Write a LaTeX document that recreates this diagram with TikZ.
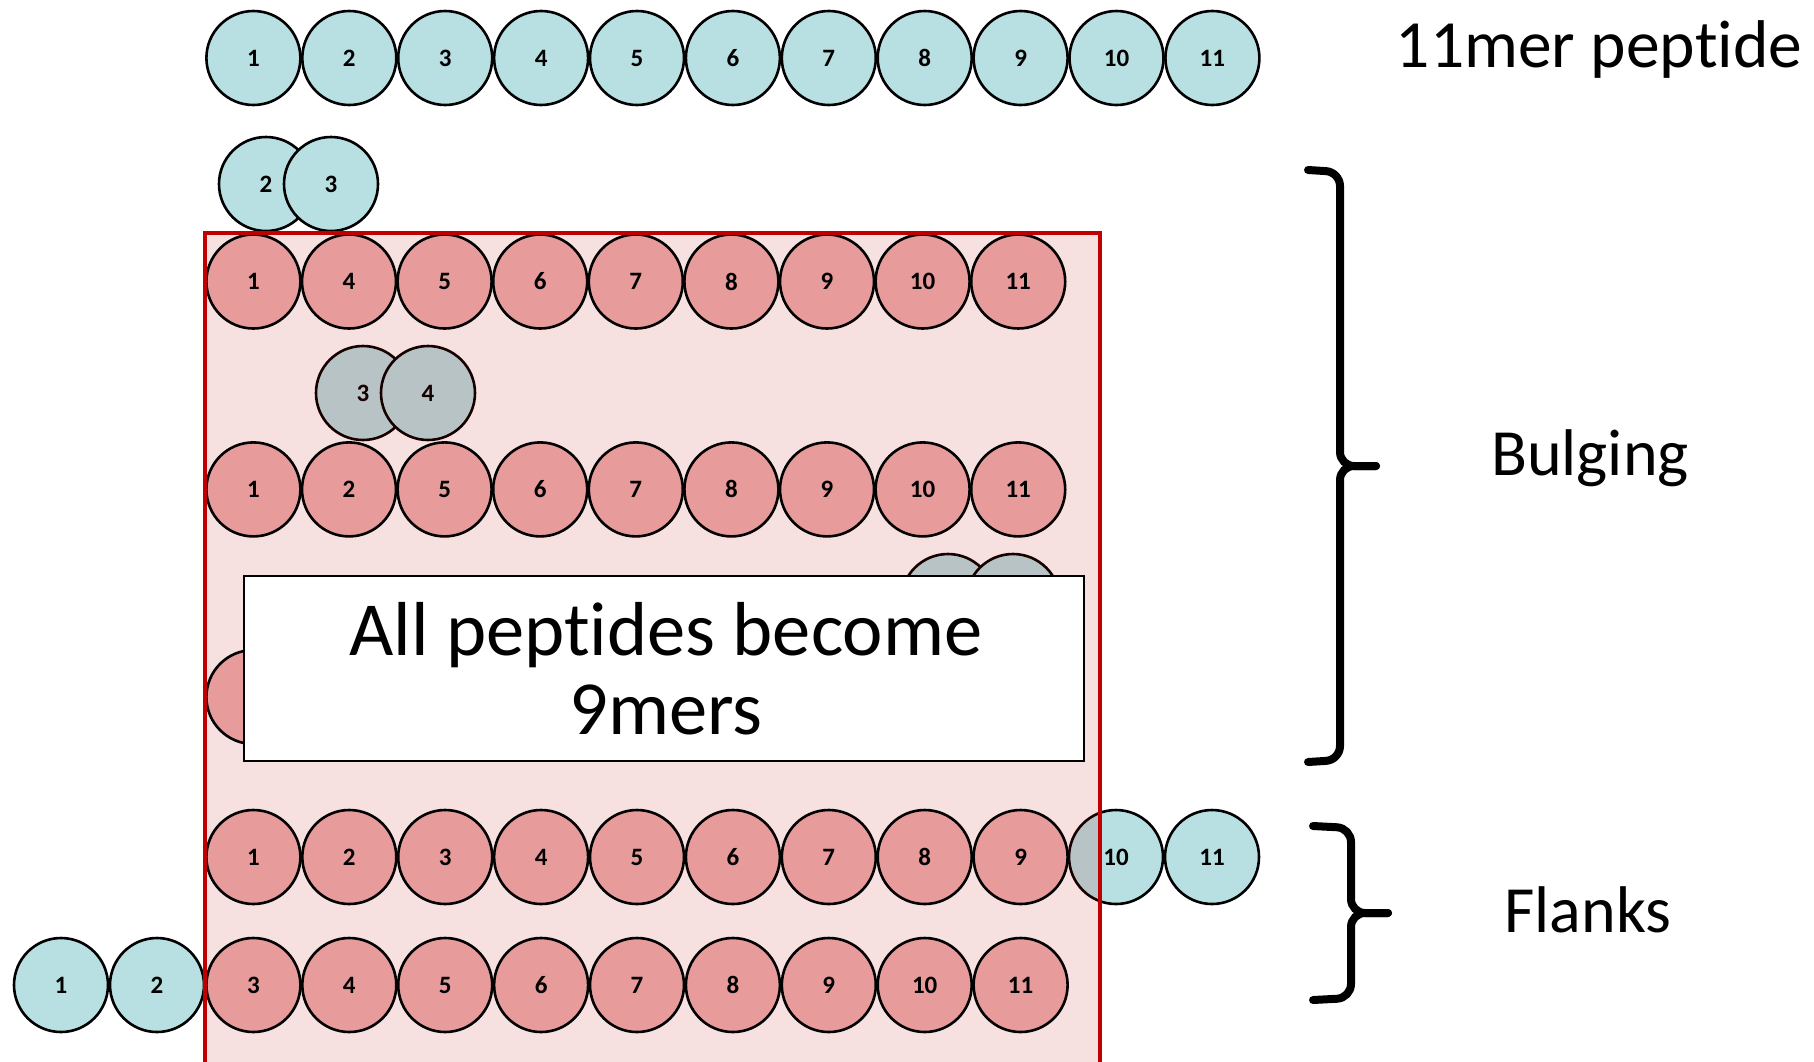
\documentclass[tikz,border=0pt]{standalone}
\usepackage{fontspec}
\setmainfont[Ligatures=NoCommon]{Carlito}
\definecolor{pepblue}{RGB}{184,223,226}
\definecolor{pepred}{RGB}{231,155,155}
\definecolor{framered}{RGB}{192,0,0}
\tikzset{
  res/.style={circle, draw=black, line width=2.6pt, minimum size=94pt, inner sep=0pt,
              font=\fontsize{25}{25}\selectfont\bfseries},
  blueres/.style={res, fill=pepblue},
  redres/.style={res, fill=pepred},
  bracket/.style={line width=8pt, rounded corners=14pt, line cap=round},
  biglabel/.style={anchor=base, font=\fontsize{66}{66}\selectfont},
}
\begin{document}
\begin{tikzpicture}[x=1pt, y=-1pt]
  \useasboundingbox (0,0) rectangle (1814,1061);
  \clip (0,0) rectangle (1814,1061);

  % full-length 11mer peptide
  \foreach \i in {1,...,11}
    \node[blueres] (top\i) at ({253.4+95.9*(\i-1)},58) {\i};

  % residues pushed out of the groove (drawn before the tint)
  \node[blueres] (bA2) at (266,184) {2};
  \node[blueres] (bA3) at (331,184) {3};
  \node[blueres] (bB3) at (363,393) {3};
  \node[blueres] (bB4) at (428,393) {4};
  \node[blueres] (bC1) at (948,601) {};
  \node[blueres] (bC2) at (1013,601) {};
  \node[blueres] (fl10) at (1116,857) {10};
  \node[blueres] (fl11) at (1212,857) {11};
  \node[blueres] (fb1) at (61,985) {1};
  \node[blueres] (fb2) at (157,985) {2};

  % binding groove tint
  \fill[framered, opacity=0.12] (205,233) rectangle (1100,1080);

  % residues held in the groove
  \foreach \n [count=\k from 0] in {1,4,5,6,7,8,9,10,11}
    \node[redres] (ra\n) at ({253.4+95.6*\k},281.5) {\n};
  \foreach \n [count=\k from 0] in {1,2,5,6,7,8,9,10,11}
    \node[redres] (rb\n) at ({253.4+95.6*\k},489.4) {\n};
  \node[redres] (rc1) at (253.4,697) {};
  \foreach \n [count=\k from 0] in {1,...,9}
    \node[redres] (rd\n) at ({253.4+95.9*\k},857) {\n};
  \foreach \n [count=\k from 0] in {3,...,11}
    \node[redres] (re\n) at ({253.4+95.9*\k},985) {\n};

  % message box
  \node[draw=black, fill=white, line width=2pt, minimum width=840pt, minimum height=185pt,
        inner sep=0pt] (msg) at (664,668.5) {};
  \node[align=center, font=\fontsize{76.5}{79}\selectfont, inner sep=0pt] (msgtext)
        at ([xshift=2pt]msg.center) {All peptides become\\9mers};

  % groove outline
  \draw[framered, line width=3.3pt] (205,1080) -- (205,233) -- (1100,233) -- (1100,1080);

  % brackets
  \coordinate (bgTop) at (1308,170);
  \coordinate (bgTip) at (1376,466);
  \coordinate (bgBot) at (1308,762);
  \draw[bracket] (bgTop) -- (1340,172) -- (1340,466) -- (bgTip);
  \draw[bracket] (bgTip) -- (1340,466) -- (1340,760) -- (bgBot);
  \coordinate (flTop) at (1313,826);
  \coordinate (flTip) at (1388,913);
  \coordinate (flBot) at (1313,1000);
  \draw[bracket] (flTop) -- (1351,828) -- (1351,913) -- (flTip);
  \draw[bracket] (flTip) -- (1351,913) -- (1351,998) -- (flBot);

  % labels
  \node[biglabel, font=\fontsize{67.5}{67.5}\selectfont] (lab11) at (1599,67) {11mer peptide};
  \node[biglabel] (labBulge) at (1590,475) {Bulging};
  \node[biglabel] (labFlank) at (1588,932) {Flanks};
\end{tikzpicture}
\end{document}
